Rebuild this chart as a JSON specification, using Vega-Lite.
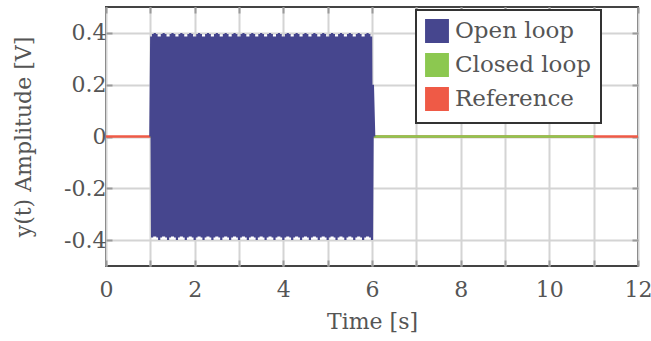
{
"$schema": "https://vega.github.io/schema/vega-lite/v6.json",
"width": 532, "height": 259,
"autosize": "none",
"padding": {"left": 106, "top": 7, "right": 13, "bottom": 75},
"background": "white",
"config": {"view": {"stroke": "#444", "strokeWidth": 2}, "font": "DejaVu Serif"},
"datasets": {
"ref": [{"t":0,"v":0},{"t":12,"v":0}],
"cl": [{"t":1,"v":0},{"t":11,"v":0}],
"ol": [
{"t":1.0,"v":0},{"t":1.02,"v":0.386},{"t":1.04,"v":-0.39},{"t":1.06,"v":0.396},{"t":1.08,"v":-0.386},{"t":1.1,"v":0.4},{"t":1.12,"v":-0.386},{"t":1.14,"v":0.396},{"t":1.16,"v":-0.39},{"t":1.18,"v":0.386},
{"t":1.2,"v":-0.4},{"t":1.22,"v":0.386},{"t":1.24,"v":-0.39},{"t":1.26,"v":0.396},{"t":1.28,"v":-0.386},{"t":1.3,"v":0.4},{"t":1.32,"v":-0.386},{"t":1.34,"v":0.396},{"t":1.36,"v":-0.39},{"t":1.38,"v":0.386},
{"t":1.4,"v":-0.4},{"t":1.42,"v":0.386},{"t":1.44,"v":-0.39},{"t":1.46,"v":0.396},{"t":1.48,"v":-0.386},{"t":1.5,"v":0.4},{"t":1.52,"v":-0.386},{"t":1.54,"v":0.396},{"t":1.56,"v":-0.39},{"t":1.58,"v":0.386},
{"t":1.6,"v":-0.4},{"t":1.62,"v":0.386},{"t":1.64,"v":-0.39},{"t":1.66,"v":0.396},{"t":1.68,"v":-0.386},{"t":1.7,"v":0.4},{"t":1.72,"v":-0.386},{"t":1.74,"v":0.396},{"t":1.76,"v":-0.39},{"t":1.78,"v":0.386},
{"t":1.8,"v":-0.4},{"t":1.82,"v":0.386},{"t":1.84,"v":-0.39},{"t":1.86,"v":0.396},{"t":1.88,"v":-0.386},{"t":1.9,"v":0.4},{"t":1.92,"v":-0.386},{"t":1.94,"v":0.396},{"t":1.96,"v":-0.39},{"t":1.98,"v":0.386},
{"t":2.0,"v":-0.4},{"t":2.02,"v":0.386},{"t":2.04,"v":-0.39},{"t":2.06,"v":0.396},{"t":2.08,"v":-0.386},{"t":2.1,"v":0.4},{"t":2.12,"v":-0.386},{"t":2.14,"v":0.396},{"t":2.16,"v":-0.39},{"t":2.18,"v":0.386},
{"t":2.2,"v":-0.4},{"t":2.22,"v":0.386},{"t":2.24,"v":-0.39},{"t":2.26,"v":0.396},{"t":2.28,"v":-0.386},{"t":2.3,"v":0.4},{"t":2.32,"v":-0.386},{"t":2.34,"v":0.396},{"t":2.36,"v":-0.39},{"t":2.38,"v":0.386},
{"t":2.4,"v":-0.4},{"t":2.42,"v":0.386},{"t":2.44,"v":-0.39},{"t":2.46,"v":0.396},{"t":2.48,"v":-0.386},{"t":2.5,"v":0.4},{"t":2.52,"v":-0.386},{"t":2.54,"v":0.396},{"t":2.56,"v":-0.39},{"t":2.58,"v":0.386},
{"t":2.6,"v":-0.4},{"t":2.62,"v":0.386},{"t":2.64,"v":-0.39},{"t":2.66,"v":0.396},{"t":2.68,"v":-0.386},{"t":2.7,"v":0.4},{"t":2.72,"v":-0.386},{"t":2.74,"v":0.396},{"t":2.76,"v":-0.39},{"t":2.78,"v":0.386},
{"t":2.8,"v":-0.4},{"t":2.82,"v":0.386},{"t":2.84,"v":-0.39},{"t":2.86,"v":0.396},{"t":2.88,"v":-0.386},{"t":2.9,"v":0.4},{"t":2.92,"v":-0.386},{"t":2.94,"v":0.396},{"t":2.96,"v":-0.39},{"t":2.98,"v":0.386},
{"t":3.0,"v":-0.4},{"t":3.02,"v":0.386},{"t":3.04,"v":-0.39},{"t":3.06,"v":0.396},{"t":3.08,"v":-0.386},{"t":3.1,"v":0.4},{"t":3.12,"v":-0.386},{"t":3.14,"v":0.396},{"t":3.16,"v":-0.39},{"t":3.18,"v":0.386},
{"t":3.2,"v":-0.4},{"t":3.22,"v":0.386},{"t":3.24,"v":-0.39},{"t":3.26,"v":0.396},{"t":3.28,"v":-0.386},{"t":3.3,"v":0.4},{"t":3.32,"v":-0.386},{"t":3.34,"v":0.396},{"t":3.36,"v":-0.39},{"t":3.38,"v":0.386},
{"t":3.4,"v":-0.4},{"t":3.42,"v":0.386},{"t":3.44,"v":-0.39},{"t":3.46,"v":0.396},{"t":3.48,"v":-0.386},{"t":3.5,"v":0.4},{"t":3.52,"v":-0.386},{"t":3.54,"v":0.396},{"t":3.56,"v":-0.39},{"t":3.58,"v":0.386},
{"t":3.6,"v":-0.4},{"t":3.62,"v":0.386},{"t":3.64,"v":-0.39},{"t":3.66,"v":0.396},{"t":3.68,"v":-0.386},{"t":3.7,"v":0.4},{"t":3.72,"v":-0.386},{"t":3.74,"v":0.396},{"t":3.76,"v":-0.39},{"t":3.78,"v":0.386},
{"t":3.8,"v":-0.4},{"t":3.82,"v":0.386},{"t":3.84,"v":-0.39},{"t":3.86,"v":0.396},{"t":3.88,"v":-0.386},{"t":3.9,"v":0.4},{"t":3.92,"v":-0.386},{"t":3.94,"v":0.396},{"t":3.96,"v":-0.39},{"t":3.98,"v":0.386},
{"t":4.0,"v":-0.4},{"t":4.02,"v":0.386},{"t":4.04,"v":-0.39},{"t":4.06,"v":0.396},{"t":4.08,"v":-0.386},{"t":4.1,"v":0.4},{"t":4.12,"v":-0.386},{"t":4.14,"v":0.396},{"t":4.16,"v":-0.39},{"t":4.18,"v":0.386},
{"t":4.2,"v":-0.4},{"t":4.22,"v":0.386},{"t":4.24,"v":-0.39},{"t":4.26,"v":0.396},{"t":4.28,"v":-0.386},{"t":4.3,"v":0.4},{"t":4.32,"v":-0.386},{"t":4.34,"v":0.396},{"t":4.36,"v":-0.39},{"t":4.38,"v":0.386},
{"t":4.4,"v":-0.4},{"t":4.42,"v":0.386},{"t":4.44,"v":-0.39},{"t":4.46,"v":0.396},{"t":4.48,"v":-0.386},{"t":4.5,"v":0.4},{"t":4.52,"v":-0.386},{"t":4.54,"v":0.396},{"t":4.56,"v":-0.39},{"t":4.58,"v":0.386},
{"t":4.6,"v":-0.4},{"t":4.62,"v":0.386},{"t":4.64,"v":-0.39},{"t":4.66,"v":0.396},{"t":4.68,"v":-0.386},{"t":4.7,"v":0.4},{"t":4.72,"v":-0.386},{"t":4.74,"v":0.396},{"t":4.76,"v":-0.39},{"t":4.78,"v":0.386},
{"t":4.8,"v":-0.4},{"t":4.82,"v":0.386},{"t":4.84,"v":-0.39},{"t":4.86,"v":0.396},{"t":4.88,"v":-0.386},{"t":4.9,"v":0.4},{"t":4.92,"v":-0.386},{"t":4.94,"v":0.396},{"t":4.96,"v":-0.39},{"t":4.98,"v":0.386},
{"t":5.0,"v":-0.4},{"t":5.02,"v":0.386},{"t":5.04,"v":-0.39},{"t":5.06,"v":0.396},{"t":5.08,"v":-0.386},{"t":5.1,"v":0.4},{"t":5.12,"v":-0.386},{"t":5.14,"v":0.396},{"t":5.16,"v":-0.39},{"t":5.18,"v":0.386},
{"t":5.2,"v":-0.4},{"t":5.22,"v":0.386},{"t":5.24,"v":-0.39},{"t":5.26,"v":0.396},{"t":5.28,"v":-0.386},{"t":5.3,"v":0.4},{"t":5.32,"v":-0.386},{"t":5.34,"v":0.396},{"t":5.36,"v":-0.39},{"t":5.38,"v":0.386},
{"t":5.4,"v":-0.4},{"t":5.42,"v":0.386},{"t":5.44,"v":-0.39},{"t":5.46,"v":0.396},{"t":5.48,"v":-0.386},{"t":5.5,"v":0.4},{"t":5.52,"v":-0.386},{"t":5.54,"v":0.396},{"t":5.56,"v":-0.39},{"t":5.58,"v":0.386},
{"t":5.6,"v":-0.4},{"t":5.62,"v":0.386},{"t":5.64,"v":-0.39},{"t":5.66,"v":0.396},{"t":5.68,"v":-0.386},{"t":5.7,"v":0.4},{"t":5.72,"v":-0.386},{"t":5.74,"v":0.396},{"t":5.76,"v":-0.39},{"t":5.78,"v":0.386},
{"t":5.8,"v":-0.4},{"t":5.82,"v":0.386},{"t":5.84,"v":-0.39},{"t":5.86,"v":0.396},{"t":5.88,"v":-0.386},{"t":5.9,"v":0.4},{"t":5.92,"v":-0.386},{"t":5.94,"v":0.396},{"t":5.96,"v":-0.39},{"t":5.98,"v":0.386},
{"t":6.0,"v":-0.4},{"t":6.02,"v":0.2},{"t":6.05,"v":0}
]
},
"layer": [
{
"data": {"name": "ref"},
"mark": {"type": "line", "strokeWidth": 2.5, "clip": true},
"encoding": {
"x": {"field": "t", "type": "quantitative", "scale": {"domain": [0, 12], "nice": false, "zero": false},
 "axis": {"orient": "bottom", "values": [0,1,2,3,4,5,6,7,8,9,10,11,12], "labelExpr": "datum.value % 2 == 0 ? datum.label : ''", "labelOverlap": false, "labelFlush": false,
  "grid": true, "gridColor": "#d4d4d4", "gridWidth": 2, "domain": false, "ticks": true, "tickSize": -6, "tickWidth": 2, "tickColor": "#9a9a9a",
  "labelFontSize": 22, "labelColor": "#555", "labelFont": "DejaVu Serif", "labelPadding": 19,
  "title": "Time [s]", "titleFontSize": 22, "titleFont": "DejaVu Serif", "titleFontWeight": "normal", "titleColor": "#555", "titlePadding": 11}},
"y": {"field": "v", "type": "quantitative", "scale": {"domain": [-0.5, 0.5], "nice": false, "zero": false},
 "axis": {"orient": "left", "values": [-0.4,-0.2,0,0.2,0.4], "labelExpr": "datum.value < 0 ? '-' + format(-datum.value, '.1f') : (datum.value == 0 ? '0' : format(datum.value, '.1f'))", "labelOverlap": false, "labelFlush": false,
  "grid": true, "gridColor": "#d4d4d4", "gridWidth": 2, "domain": false, "ticks": true, "tickSize": -6, "tickWidth": 2, "tickColor": "#9a9a9a",
  "labelFontSize": 22, "labelColor": "#555", "labelFont": "DejaVu Serif", "labelPadding": 6,
  "title": "y(t) Amplitude [V]", "titleFontSize": 22, "titleFont": "DejaVu Serif", "titleFontWeight": "normal", "titleColor": "#555", "titlePadding": 28}},
"color": {"datum": "Reference", "type": "nominal",
 "scale": {"domain": ["Open loop", "Closed loop", "Reference"], "range": ["#46468e", "#8cc850", "#ef5a46"]},
 "legend": {"title": null, "orient": "none", "legendX": 310, "legendY": 3, "symbolType": "square", "symbolSize": 500, "symbolStrokeWidth": 1.5,
  "labelFontSize": 23, "labelFont": "DejaVu Serif", "labelColor": "#555", "rowPadding": 4, "padding": 9, "labelOffset": 6,
  "strokeColor": "#333", "fillColor": "white",
  "encode": {"symbols": {"update": {"fill": {"scale": "color", "field": "value"}, "fillOpacity": {"value": 1}, "stroke": {"scale": "color", "field": "value"}}},
   "legend": {"update": {"strokeWidth": {"value": 2}}}}}}
}
},
{
"data": {"name": "cl"},
"mark": {"type": "line", "strokeWidth": 2.5, "clip": true},
"encoding": {
"x": {"field": "t", "type": "quantitative", "axis": {"orient": "top", "values": [0,1,2,3,4,5,6,7,8,9,10,11,12], "labels": false, "grid": false, "domain": false, "ticks": true, "tickSize": -6, "tickWidth": 2, "tickColor": "#9a9a9a", "title": null}},
"y": {"field": "v", "type": "quantitative", "axis": {"orient": "right", "values": [-0.4,-0.2,0,0.2,0.4], "labels": false, "grid": false, "domain": false, "ticks": true, "tickSize": -6, "tickWidth": 2, "tickColor": "#9a9a9a", "title": null}},
"color": {"datum": "Closed loop", "type": "nominal"}
}
},
{
"data": {"name": "ol"},
"mark": {"type": "line", "strokeWidth": 2.2, "clip": true},
"encoding": {
"x": {"field": "t", "type": "quantitative", "axis": null},
"y": {"field": "v", "type": "quantitative", "axis": null},
"color": {"datum": "Open loop", "type": "nominal"}
}
}
],
"resolve": {"axis": {"x": "independent", "y": "independent"}}
}
